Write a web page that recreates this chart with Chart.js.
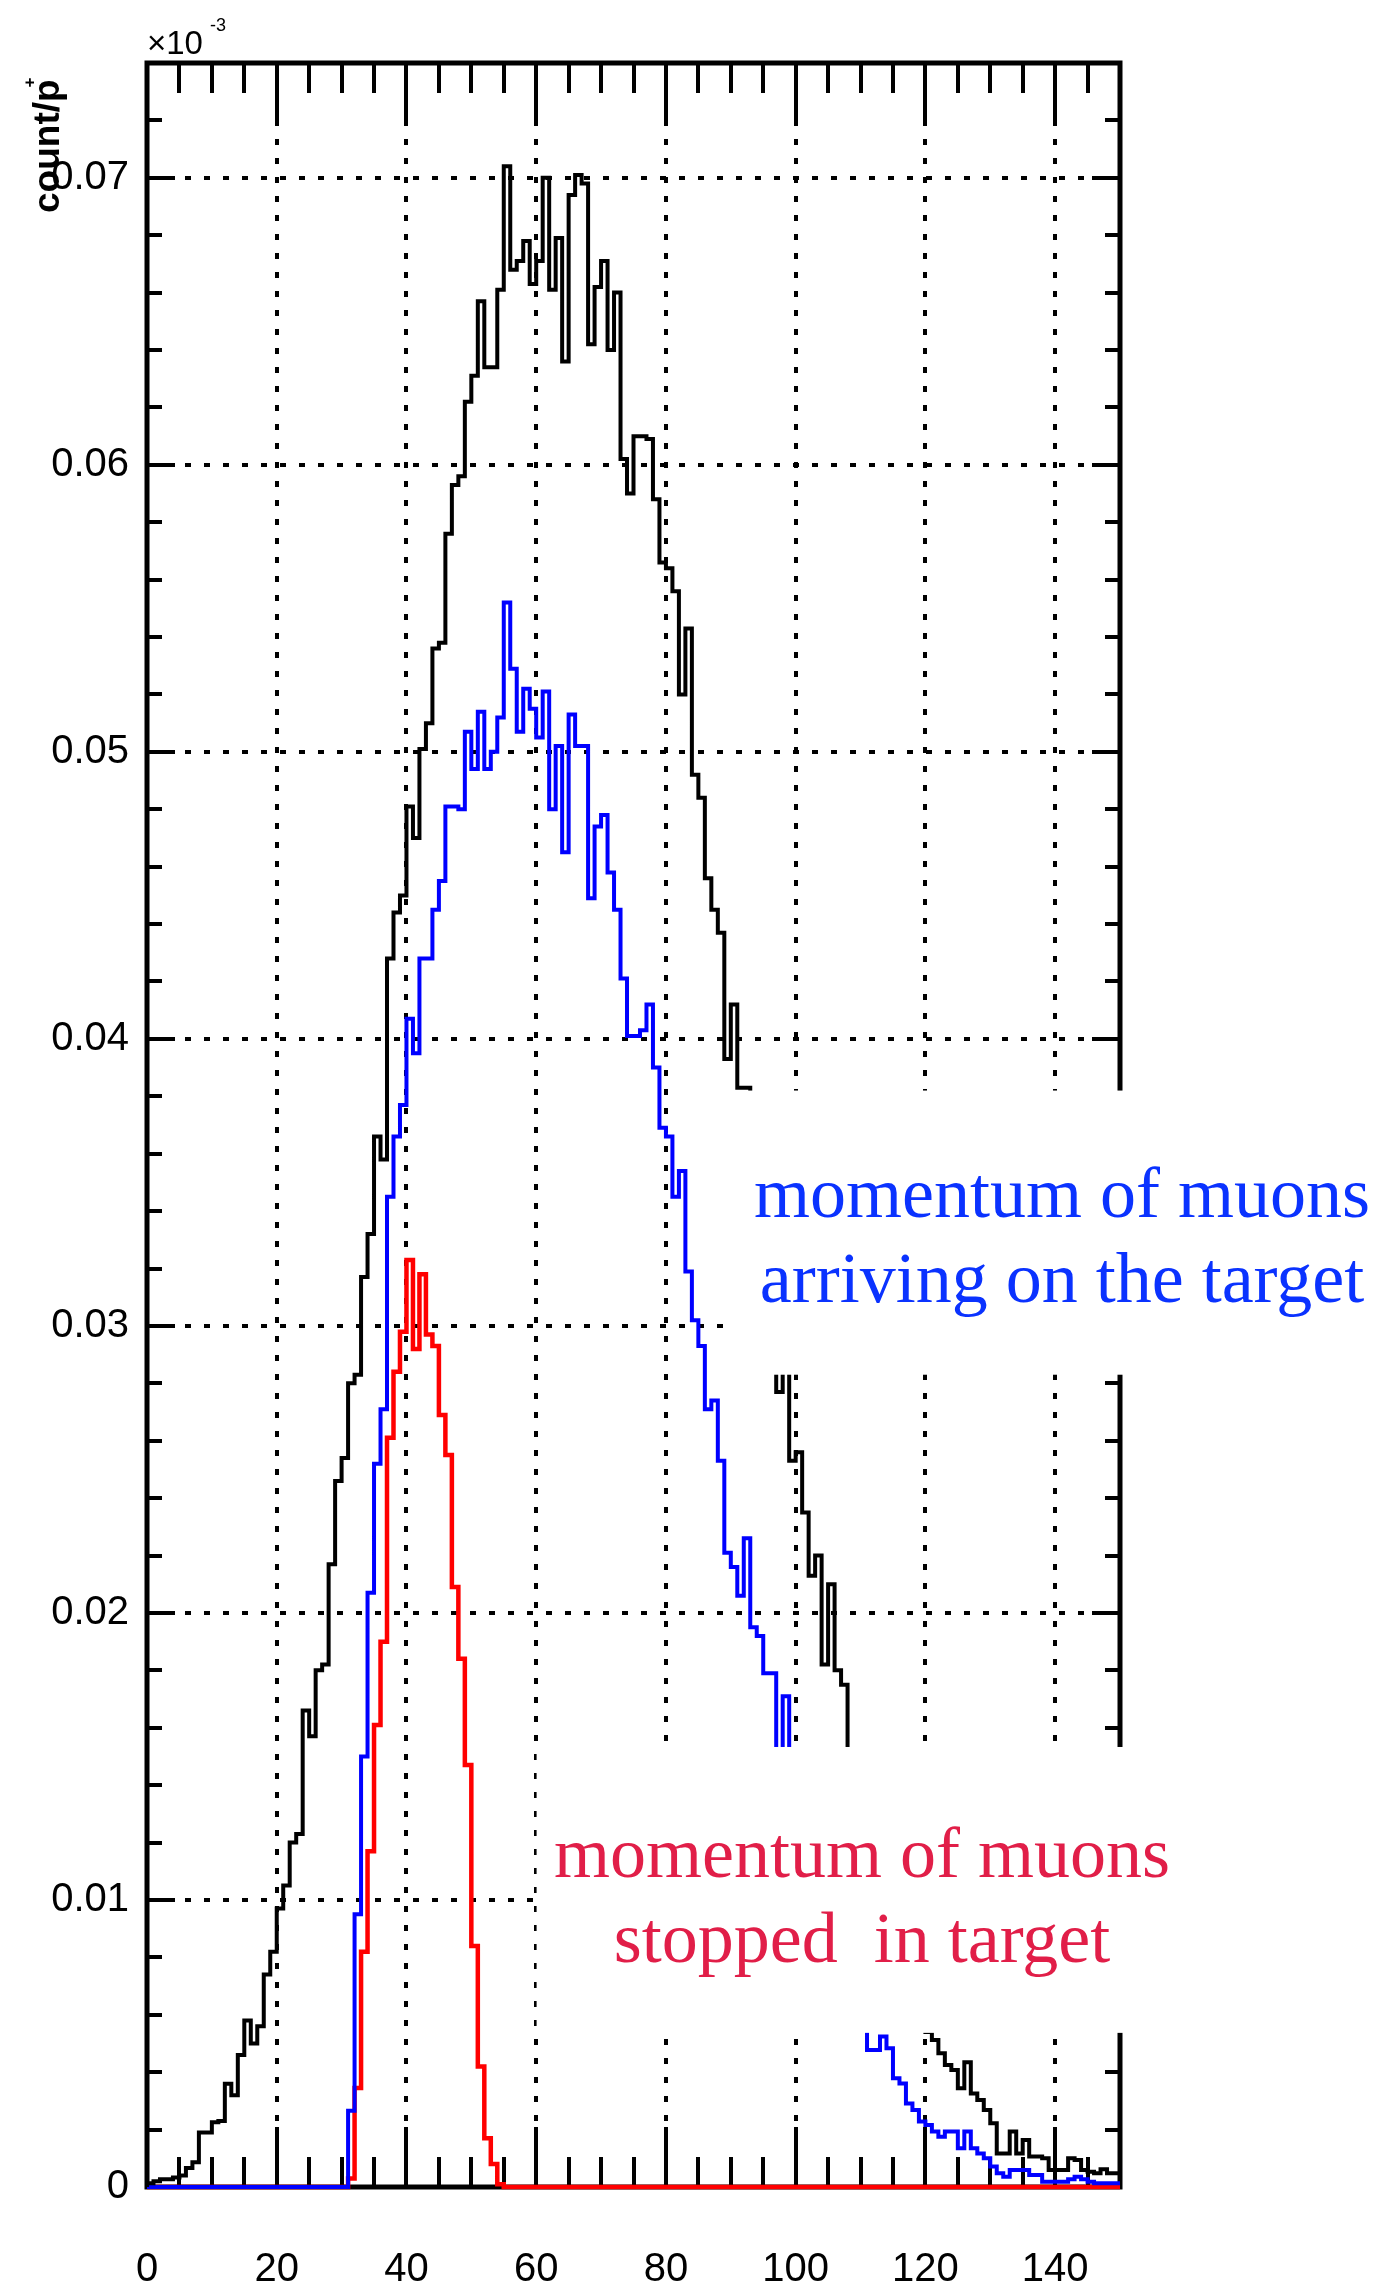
<!DOCTYPE html>
<html>
<head>
<meta charset="utf-8">
<title>Muon momentum spectra</title>
<script src="https://cdn.jsdelivr.net/npm/chart.js@4.4.1/dist/chart.umd.min.js"></script>
<style>
  html, body { margin: 0; padding: 0; background: #ffffff; }
  #wrap { position: relative; width: 1379px; height: 2284px; }
  canvas { display: block; }
</style>
</head>
<body>
<div id="wrap"><canvas id="spectrum" width="1379" height="2284"></canvas></div>
<script>
// Histogram binning: 150 bins of width 1 starting at 0
const binStart = 0;
const binWidth = 1;

// Labelled axis values
const xTicks = [0, 20, 40, 60, 80, 100, 120, 140];
const yTicks = [0, 0.01, 0.02, 0.03, 0.04, 0.05, 0.06, 0.07];

// All muons (black histogram), count / p+
const allMuons = [
  0.00000, 0.00013, 0.00020, 0.00027, 0.00027, 0.00033, 0.00040, 0.00066, 0.00086, 0.00190,
  0.00190, 0.00226, 0.00230, 0.00360, 0.00320, 0.00460, 0.00580, 0.00500, 0.00560, 0.00740,
  0.00820, 0.00970, 0.01050, 0.01200, 0.01230, 0.01660, 0.01570, 0.01800, 0.01820, 0.02170,
  0.02460, 0.02540, 0.02800, 0.02830, 0.03170, 0.03320, 0.03660, 0.03580, 0.04280, 0.04440,
  0.04500, 0.04810, 0.04700, 0.05010, 0.05100, 0.05360, 0.05380, 0.05760, 0.05930, 0.05960,
  0.06220, 0.06310, 0.06570, 0.06340, 0.06340, 0.06610, 0.07040, 0.06680, 0.06710, 0.06780,
  0.06630, 0.06710, 0.07000, 0.06610, 0.06790, 0.06360, 0.06940, 0.07010, 0.06980, 0.06420,
  0.06620, 0.06710, 0.06400, 0.06600, 0.06020, 0.05900, 0.06100, 0.06100, 0.06090, 0.05880,
  0.05660, 0.05640, 0.05560, 0.05200, 0.05430, 0.04920, 0.04840, 0.04560, 0.04450, 0.04370,
  0.03930, 0.04120, 0.03830, 0.03830, 0.03650, 0.03450, 0.03200, 0.03000, 0.02770, 0.02900,
  0.02530, 0.02560, 0.02350, 0.02130, 0.02200, 0.01820, 0.02100, 0.01800, 0.01750, 0.01500,
  0.01430, 0.01350, 0.01260, 0.01180, 0.01100, 0.01010, 0.00920, 0.00830, 0.00750, 0.00660,
  0.00600, 0.00540, 0.00512, 0.00466, 0.00425, 0.00408, 0.00344, 0.00435, 0.00326, 0.00303,
  0.00268, 0.00222, 0.00117, 0.00117, 0.00193, 0.00117, 0.00164, 0.00106, 0.00106, 0.00100,
  0.00059, 0.00059, 0.00059, 0.00100, 0.00094, 0.00059, 0.00053, 0.00048, 0.00062, 0.00048
];

// Muons arriving on the target (blue histogram)
const arrivingMuons = [
  0, 0, 0, 0, 0, 0, 0, 0, 0, 0,
  0, 0, 0, 0, 0, 0, 0, 0, 0, 0,
  0, 0, 0, 0, 0, 0, 0, 0, 0, 0,
  0, 0, 0.00266, 0.00950, 0.01500, 0.02070, 0.02520, 0.02710, 0.03450, 0.03660,
  0.03770, 0.04070, 0.03950, 0.04280, 0.04280, 0.04450, 0.04550, 0.04810, 0.04810, 0.04800,
  0.05070, 0.04940, 0.05140, 0.04940, 0.05000, 0.05120, 0.05520, 0.05290, 0.05070, 0.05220,
  0.05150, 0.05050, 0.05210, 0.04800, 0.05020, 0.04650, 0.05130, 0.05020, 0.05020, 0.04490,
  0.04740, 0.04780, 0.04580, 0.04450, 0.04210, 0.04010, 0.04010, 0.04030, 0.04120, 0.03900,
  0.03690, 0.03660, 0.03450, 0.03540, 0.03190, 0.03020, 0.02930, 0.02710, 0.02740, 0.02530,
  0.02210, 0.02160, 0.02060, 0.02260, 0.01950, 0.01920, 0.01790, 0.01790, 0.01500, 0.01710,
  0.01480, 0.01400, 0.01310, 0.01220, 0.01130, 0.01040, 0.00950, 0.00870, 0.00790, 0.00710,
  0.00640, 0.00570, 0.00477, 0.00477, 0.00524, 0.00483, 0.00379, 0.00361, 0.00291, 0.00268,
  0.00228, 0.00216, 0.00193, 0.00175, 0.00193, 0.00193, 0.00135, 0.00193, 0.00135, 0.00117,
  0.00100, 0.00071, 0.00048, 0.00036, 0.00059, 0.00059, 0.00059, 0.00042, 0.00042, 0.00018,
  0.00018, 0.00018, 0.00018, 0.00027, 0.00036, 0.00027, 0.00018, 0.00013, 0.00013, 0.00013
];

// Muons stopped in the target (red histogram)
const stoppedMuons = [
  0, 0, 0, 0, 0, 0, 0, 0, 0, 0,
  0, 0, 0, 0, 0, 0, 0, 0, 0, 0,
  0, 0, 0, 0, 0, 0, 0, 0, 0, 0,
  0, 0, 0.00030, 0.00345, 0.00820, 0.01170, 0.01610, 0.01900, 0.02610, 0.02840,
  0.02980, 0.03230, 0.02920, 0.03180, 0.02970, 0.02930, 0.02690, 0.02550, 0.02090, 0.01840,
  0.01470, 0.00840, 0.00420, 0.00170, 0.00080, 0.00010, 0, 0, 0, 0,
  0, 0, 0, 0, 0, 0, 0, 0, 0, 0,
  0, 0, 0, 0, 0, 0, 0, 0, 0, 0,
  0, 0, 0, 0, 0, 0, 0, 0, 0, 0,
  0, 0, 0, 0, 0, 0, 0, 0, 0, 0,
  0, 0, 0, 0, 0, 0, 0, 0, 0, 0,
  0, 0, 0, 0, 0, 0, 0, 0, 0, 0,
  0, 0, 0, 0, 0, 0, 0, 0, 0, 0,
  0, 0, 0, 0, 0, 0, 0, 0, 0, 0,
  0, 0, 0, 0, 0, 0, 0, 0, 0, 0
];

// Step points: one per bin's lower edge, plus the closing upper edge
function histPoints(values) {
  const pts = values.map((v, i) => ({ x: binStart + i * binWidth, y: v }));
  pts.push({ x: binStart + values.length * binWidth, y: values[values.length - 1] });
  return pts;
}

const SANS = '"Liberation Sans", Arial, Helvetica, sans-serif';
const SERIF = '"Liberation Serif", "Times New Roman", serif';

// Frame, inward tick marks and dotted grid at labelled values
const framePlugin = {
  id: 'frame',
  beforeDatasetsDraw(chart) {
    const { ctx, chartArea: a } = chart;
    const xs = chart.scales.x, ys = chart.scales.y;
    const xMinor = (xTicks[1] - xTicks[0]) / 4;
    const yMinor = (yTicks[1] - yTicks[0]) / 5;
    ctx.save();

    ctx.strokeStyle = '#000';
    ctx.lineWidth = 4;
    ctx.setLineDash([6, 13]);
    xTicks.forEach(v => {
      if (v <= xs.min) return;
      const px = Math.round(xs.getPixelForValue(v));
      ctx.beginPath(); ctx.moveTo(px, a.top); ctx.lineTo(px, a.bottom); ctx.stroke();
    });
    yTicks.forEach(v => {
      if (v <= ys.min) return;
      const py = Math.round(ys.getPixelForValue(v));
      ctx.beginPath(); ctx.moveTo(a.left, py); ctx.lineTo(a.right, py); ctx.stroke();
    });
    ctx.setLineDash([]);

    ctx.lineWidth = 4;
    ctx.beginPath();
    for (let k = 1; xs.min + k * xMinor < xs.max; k++) {
      const v = xs.min + k * xMinor;
      const major = k % 4 === 0;
      const len = major ? 60 : 30;
      const px = Math.round(xs.getPixelForValue(v));
      ctx.moveTo(px, a.bottom); ctx.lineTo(px, a.bottom - len);
      ctx.moveTo(px, a.top); ctx.lineTo(px, a.top + len);
    }
    for (let k = 1; ys.min + k * yMinor < ys.max - 1e-9; k++) {
      const v = ys.min + k * yMinor;
      const major = k % 5 === 0;
      const len = major ? 28 : 15;
      const py = Math.round(ys.getPixelForValue(v));
      ctx.moveTo(a.left, py); ctx.lineTo(a.left + len, py);
      ctx.moveTo(a.right, py); ctx.lineTo(a.right - len, py);
    }
    ctx.stroke();

    ctx.lineWidth = 5;
    ctx.strokeRect(a.left, a.top, a.right - a.left, a.bottom - a.top);
    ctx.restore();
  }
};

// Annotation panels, axis title and multiplier
const notesPlugin = {
  id: 'notes',
  afterDraw(chart) {
    const { ctx } = chart;
    const xs = chart.scales.x, ys = chart.scales.y;
    const W = chart.width;
    ctx.save();

    // white panels carrying the captions
    ctx.fillStyle = '#ffffff';
    const b1x = xs.getPixelForValue(90.5), b1t = ys.getPixelForValue(0.0382), b1b = ys.getPixelForValue(0.0283);
    ctx.fillRect(b1x, b1t, W - b1x, b1b - b1t);
    const b2x = xs.getPixelForValue(60) + 0.4, b2t = ys.getPixelForValue(0.01533), b2b = ys.getPixelForValue(0.00537);
    ctx.fillRect(b2x, b2t, W - b2x, b2b - b2t);

    // captions
    ctx.textAlign = 'center';
    ctx.textBaseline = 'alphabetic';
    ctx.font = '72px ' + SERIF;
    ctx.fillStyle = '#0a32ff';
    ctx.fillText('momentum of muons', 1062, 1217);
    ctx.fillText('arriving on the target', 1062, 1302);
    ctx.fillStyle = '#e11e48';
    ctx.fillText('momentum of muons', 862, 1877);
    ctx.fillText('stopped  in target', 862, 1962);

    // axis multiplier
    ctx.fillStyle = '#000';
    ctx.textAlign = 'left';
    ctx.font = '33px ' + SANS;
    ctx.fillText('\u00d710', 147, 54);
    ctx.font = '18px ' + SANS;
    ctx.fillText('-3', 210, 31);

    // y-axis title, rotated
    ctx.save();
    ctx.translate(59, 213);
    ctx.rotate(-Math.PI / 2);
    ctx.font = 'bold 37px ' + SANS;
    ctx.fillText('count/p', 0, 0);
    const w = ctx.measureText('count/p').width;
    ctx.font = 'bold 17px ' + SANS;
    ctx.fillText('+', w - 8, -24);
    ctx.restore();

    ctx.restore();
  }
};

const lineStyle = { stepped: 'after', pointRadius: 0, fill: false, clip: false, borderJoinStyle: 'miter' };

new Chart(document.getElementById('spectrum'), {
  type: 'line',
  data: {
    datasets: [
      Object.assign({ label: 'all muons', data: histPoints(allMuons), borderColor: '#000000', borderWidth: 4 }, lineStyle),
      Object.assign({ label: 'arriving on the target', data: histPoints(arrivingMuons), borderColor: '#0000ff', borderWidth: 4 }, lineStyle),
      Object.assign({ label: 'stopped in target', data: histPoints(stoppedMuons), borderColor: '#ff0000', borderWidth: 4.5 }, lineStyle)
    ]
  },
  options: {
    responsive: false,
    animation: false,
    devicePixelRatio: 1,
    layout: { padding: { top: 63, right: 259, left: 0, bottom: 0 } },
    plugins: { legend: { display: false }, tooltip: { enabled: false } },
    scales: {
      x: {
        type: 'linear',
        min: 0,
        max: 150,
        grid: { display: false },
        border: { display: false },
        afterBuildTicks: s => { s.ticks = xTicks.map(v => ({ value: v })); },
        afterFit: s => { s.height = 97; },
        ticks: {
          color: '#000',
          font: { family: SANS, size: 40 },
          padding: 51,
          maxRotation: 0,
          autoSkip: false,
          callback: v => String(v)
        }
      },
      y: {
        type: 'linear',
        min: 0,
        max: 0.074,
        grid: { display: false },
        border: { display: false },
        afterBuildTicks: s => { s.ticks = yTicks.map(v => ({ value: v })); },
        afterFit: s => { s.width = 147; },
        ticks: {
          color: '#000',
          font: { family: SANS, size: 40 },
          padding: 10,
          autoSkip: false,
          callback: v => (v === 0 ? '0' : Number(v).toFixed(2))
        }
      }
    }
  },
  plugins: [framePlugin, notesPlugin]
});
</script>
</body>
</html>
